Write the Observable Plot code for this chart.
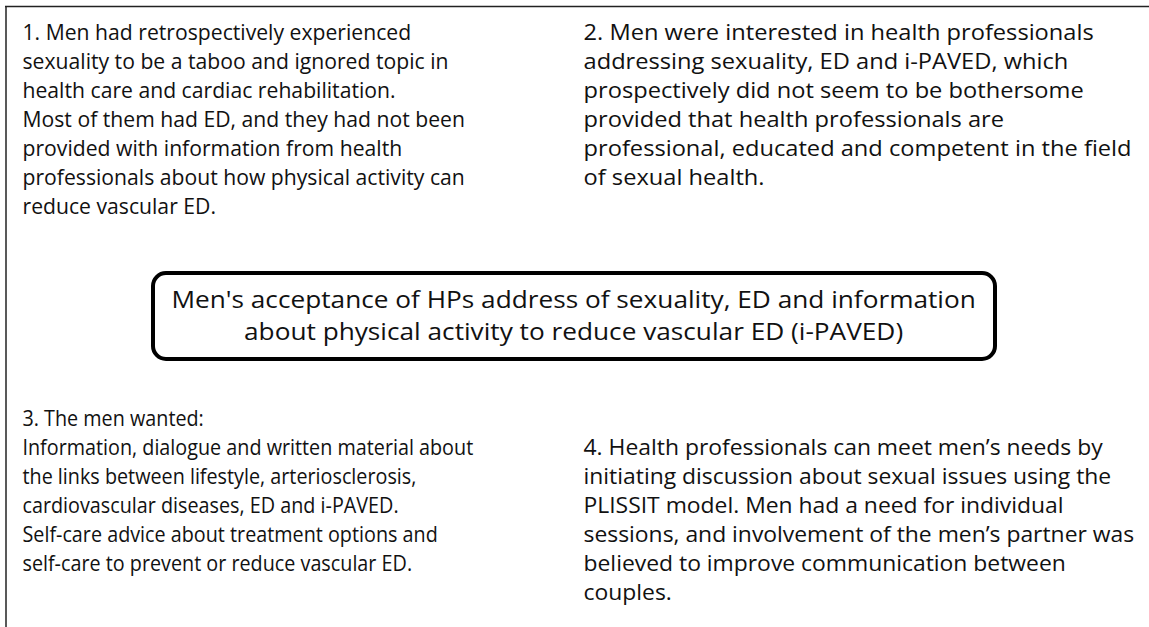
<!DOCTYPE html>
<html><head><meta charset="utf-8">
<script src="https://cdn.jsdelivr.net/npm/d3@7"></script>
<script src="https://cdn.jsdelivr.net/npm/@observablehq/plot@0.6"></script>
<style>html,body{margin:0;padding:0;background:#fff;overflow:hidden}</style>
</head><body><div id="chart"></div>
<script>
const block1 = [
  "1. Men had retrospectively experienced",
  "sexuality to be a taboo and ignored topic in",
  "health care and cardiac rehabilitation.",
  "Most of them had ED, and they had not been",
  "provided with information from health",
  "professionals about how physical activity can",
  "reduce vascular ED."
];
const block2 = [
  "2. Men were interested in health professionals",
  "addressing sexuality, ED and i-PAVED, which",
  "prospectively did not seem to be bothersome",
  "provided that health professionals are",
  "professional, educated and competent in the field",
  "of sexual health."
];
const centerTitle = [
  "Men's acceptance of HPs address of sexuality, ED and information",
  "about physical activity to reduce vascular ED (i-PAVED)"
];
const block3 = [
  "3. The men wanted:",
  "Information, dialogue and written material about",
  "the links between lifestyle, arteriosclerosis,",
  "cardiovascular diseases, ED and i-PAVED.",
  "Self-care advice about treatment options and",
  "self-care to prevent or reduce vascular ED."
];
const block4 = [
  "4. Health professionals can meet men\u2019s needs by",
  "initiating discussion about sexual issues using the",
  "PLISSIT model. Men had a need for individual",
  "sessions, and involvement of the men\u2019s partner was",
  "believed to improve communication between",
  "couples."
];

const W = 1149, H = 627;
const LH = 29;
const font = "'Open Sans', sans-serif";
const FS = 21.5;

function lines(arr, x0, y0, lh) {
  return arr.map((t, i) => ({t, x: x0, y: y0 + i * lh}));
}
// [rows, anchor x, scaleX, text anchor, font size]
const blocks = [
  [lines(block1, 22, 33, LH), 22, 0.985, "start", FS],
  [lines(block2, 583, 33, LH), 583, 1.1, "start", FS],
  [lines(block3, 22, 419, LH), 22, 0.92, "start", FS],
  [lines(block4, 583, 448, LH), 583, 1.065, "start", FS],
  [lines(centerTitle, 573, 300, 32), 573, 1.14, "middle", 23]
];

const chart = Plot.plot({
  width: W, height: H,
  margin: 0,
  x: {type: "linear", domain: [0, W], range: [0, W], axis: null},
  y: {type: "linear", domain: [0, H], range: [0, H], axis: null},
  style: {background: "#fff"},
  marks: [
    Plot.ruleY([6], {x1: 5, x2: W, stroke: "#222", strokeWidth: 1.5}),
    Plot.ruleX([5.5], {y1: 6, y2: H, stroke: "#222", strokeWidth: 1.5}),
    Plot.rect([{x1: 153, x2: 995, y1: 273, y2: 359}], {x1: "x1", x2: "x2", y1: "y1", y2: "y2", fill: "#fff", stroke: "#000", strokeWidth: 4, rx: 13}),
    ...blocks.map(([rows, , , anchor, fs]) =>
      Plot.text(rows, {x: "x", y: "y", text: "t", textAnchor: anchor, lineAnchor: "middle", fontSize: fs, fontFamily: font, fill: "#111"}))
  ]
});
// horizontal condensing/expanding per block, to mimic the original typeface widths
const groups = chart.querySelectorAll('g[aria-label="text"]');
groups.forEach((g, i) => {
  const b = blocks[i];
  if (!b) return;
  const wrap = document.createElementNS("http://www.w3.org/2000/svg", "g");
  wrap.setAttribute("transform", `translate(${b[1]},0) scale(${b[2]},1) translate(${-b[1]},0)`);
  g.parentNode.insertBefore(wrap, g);
  wrap.appendChild(g);
});
document.getElementById("chart").appendChild(chart);
</script></body></html>
